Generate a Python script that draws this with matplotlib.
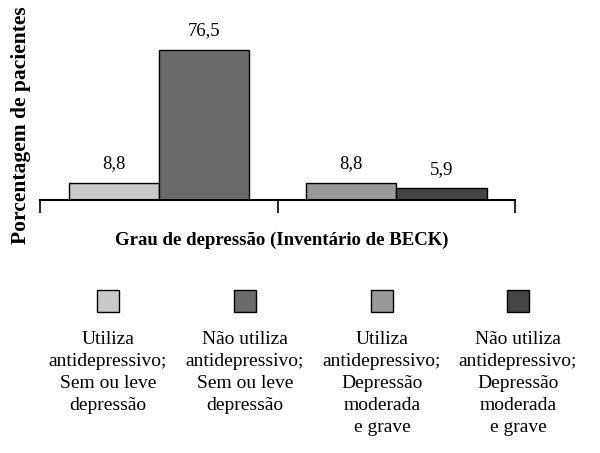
import matplotlib
matplotlib.use("Agg")
import matplotlib.pyplot as plt
from matplotlib.patches import Rectangle

plt.rcParams['font.family'] = ['Liberation Serif', 'DejaVu Serif']

groups = ["Sem ou leve depressão", "Depressão moderada e grave"]
series_labels = ["Utiliza\nantidepressivo;\nSem ou leve\ndepressão",
                 "Não utiliza\nantidepressivo;\nSem ou leve\ndepressão",
                 "Utiliza\nantidepressivo;\nDepressão\nmoderada\ne grave",
                 "Não utiliza\nantidepressivo;\nDepressão\nmoderada\ne grave"]
values = [8.8, 76.5, 8.8, 5.9]
value_text = ["8,8", "76,5", "8,8", "5,9"]
bar_group = [0, 0, 1, 1]
bar_offset = [-0.19, 0.19, -0.19, 0.19]
colors = ["#c8c8c8", "#6b6b6b", "#999999", "#454545"]

W, H = 600, 453
fig = plt.figure(figsize=(6, 4.53), dpi=100)
ax = fig.add_axes([40 / W, (H - 200) / H, 475 / W, 200 / H])

for i, v in enumerate(values):
    x = bar_group[i] + bar_offset[i]
    ax.bar(x, v, width=0.38, color=colors[i], edgecolor="black", linewidth=1.0)
    ax.text(x, v + 5.5, value_text[i], ha="center", va="bottom", fontsize=13.5)

ax.set_xlim(-0.5, 1.5)
ax.set_ylim(0, 102)
for s in ["top", "right", "left"]:
    ax.spines[s].set_visible(False)
ax.spines["bottom"].set_linewidth(1.5)
ax.set_yticks([])
ax.set_xticks([-0.5, 0.5, 1.5])
ax.set_xticklabels([])
ax.tick_params(axis="x", direction="out", length=9.5, width=1.2)

fig.text(282 / W, 1 - 240 / H, "Grau de depressão (Inventário de BECK)",
         ha="center", va="center", fontsize=13.5, fontweight="bold")
fig.text(21 / W, 1 - 125 / H, "Porcentagem de pacientes", rotation=90,
         ha="center", va="center", fontsize=15.5, fontweight="bold")

centers = [108, 245, 382, 518]
for i, cx in enumerate(centers):
    sq = 22
    fig.add_artist(Rectangle(((cx - sq / 2) / W, 1 - 312 / H), sq / W, sq / H,
                             transform=fig.transFigure, facecolor=colors[i],
                             edgecolor="black", linewidth=1.0))
    fig.text(cx / W, 1 - 331 / H, series_labels[i], ha="center", va="top",
             fontsize=14, linespacing=1.38)

fig.savefig("out.png", dpi=100)
